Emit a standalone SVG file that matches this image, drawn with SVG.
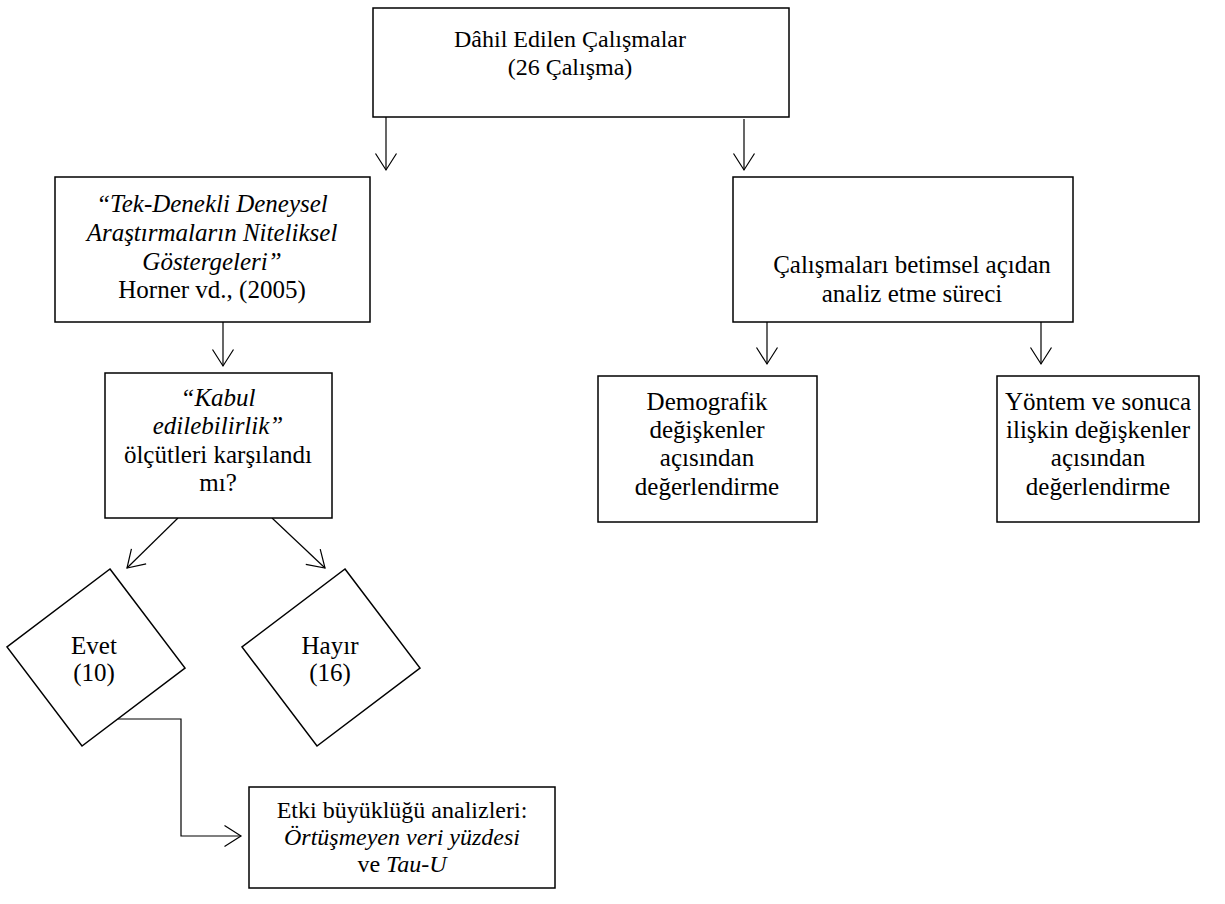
<svg xmlns="http://www.w3.org/2000/svg" width="1225" height="904" viewBox="0 0 1225 904" font-family="'Liberation Serif', 'Times New Roman', serif">
<defs>
<style>
.box{fill:#fff;stroke:#000;stroke-width:1.5}
.ln{fill:none;stroke:#000;stroke-width:1.2}
.t{font-family:'Liberation Serif','Times New Roman',serif;font-size:25px;fill:#000;text-anchor:middle}
.s24{font-size:24px}
.it{font-style:italic}
</style>
<marker id="ah" markerUnits="userSpaceOnUse" viewBox="-18 -12 20 24" refX="0" refY="0" markerWidth="20" markerHeight="24" orient="auto">
<path d="M-16.5,-10.5 L0,0 L-16.5,10.5" fill="none" stroke="#000" stroke-width="1.2"/>
</marker>
</defs>
<rect width="1225" height="904" fill="#fff"/>
<g id="connectors">
<path class="ln" d="M386,117 L386,170" marker-end="url(#ah)"/>
<path class="ln" d="M744,119 L744,170" marker-end="url(#ah)"/>
<path class="ln" d="M223,322 L223,366" marker-end="url(#ah)"/>
<path class="ln" d="M178,518 L127,568" marker-end="url(#ah)"/>
<path class="ln" d="M272,518 L325,568" marker-end="url(#ah)"/>
<path class="ln" d="M767,322 L767,364" marker-end="url(#ah)"/>
<path class="ln" d="M1041,322 L1041,364" marker-end="url(#ah)"/>
<path class="ln" d="M118,719 L181,719 L181,836 L241,836" marker-end="url(#ah)"/>
</g>
<g id="n-top" class="t s24">
<rect class="box" x="373" y="8" width="416" height="109"/>
<text x="570" y="47">Dâhil Edilen Çalışmalar</text>
<text x="570" y="75">(26 Çalışma)</text>
</g>
<g id="n-tek" class="t">
<rect class="box" x="55" y="177" width="315" height="145"/>
<text class="it" x="212" y="212">“Tek-Denekli Deneysel</text>
<text class="it" x="212" y="241">Araştırmaların Niteliksel</text>
<text class="it" x="212" y="270">Göstergeleri”</text>
<text x="212" y="298">Horner vd., (2005)</text>
</g>
<g id="n-kabul" class="t">
<rect class="box" x="105" y="373" width="227" height="145"/>
<text class="it" x="218" y="406">“Kabul</text>
<text class="it" x="218" y="434">edilebilirlik”</text>
<text x="218" y="463">ölçütleri karşılandı</text>
<text x="218" y="491">mı?</text>
</g>
<g id="n-evet" class="t">
<polygon class="box" points="110,569 185,668 82,746 7,647"/>
<text x="94" y="654">Evet</text>
<text x="94" y="681">(10)</text>
</g>
<g id="n-hayir" class="t">
<polygon class="box" points="345,569 420,668 317,746 242,647"/>
<text x="330" y="654">Hayır</text>
<text x="330" y="681">(16)</text>
</g>
<g id="n-etki" class="t s24">
<rect class="box" x="249" y="787" width="306" height="101"/>
<text x="402" y="818">Etki büyüklüğü analizleri:</text>
<text class="it" x="402" y="845">Örtüşmeyen veri yüzdesi</text>
<text x="402" y="872">ve <tspan class="it">Tau-U</tspan></text>
</g>
<g id="n-cal" class="t">
<rect class="box" x="733" y="177" width="340" height="145"/>
<text x="912" y="273">Çalışmaları betimsel açıdan</text>
<text x="912" y="302">analiz etme süreci</text>
</g>
<g id="n-demo" class="t">
<rect class="box" x="598" y="376" width="219" height="146"/>
<text x="707" y="410">Demografik</text>
<text x="707" y="438">değişkenler</text>
<text x="707" y="466">açısından</text>
<text x="707" y="495">değerlendirme</text>
</g>
<g id="n-yontem" class="t">
<rect class="box" x="997" y="376" width="202" height="146"/>
<text x="1098" y="410">Yöntem ve sonuca</text>
<text x="1098" y="438">ilişkin değişkenler</text>
<text x="1098" y="466">açısından</text>
<text x="1098" y="495">değerlendirme</text>
</g>
</svg>
